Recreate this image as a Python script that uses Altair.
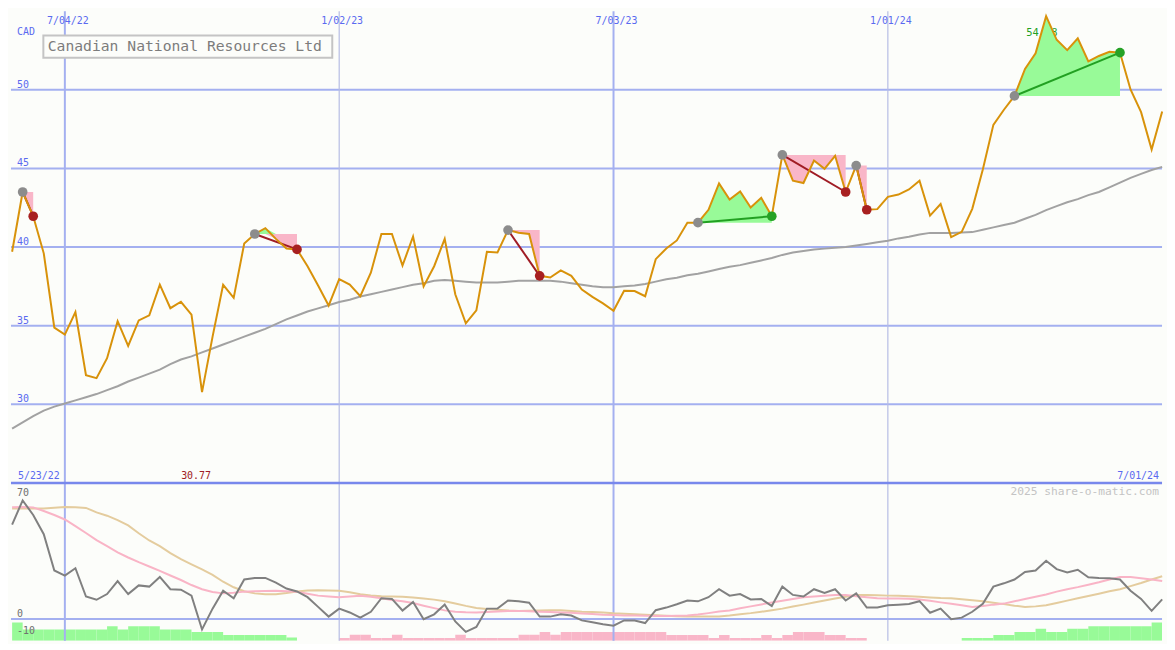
import altair as alt
import pandas as pd

# ---------------- data ----------------
start_date = "2022-05-30"          # first weekly bar (Monday)
title = "Canadian National Resources Ltd"
currency = "CAD"
first_label = "5/23/22"
last_label = "7/01/24"
credit = "2025 share-o-matic.com"

price = [39.7, 43.5, 41.96, 39.6, 34.88, 34.43, 35.87, 31.85, 31.66, 32.93,
         35.29, 33.71, 35.33, 35.66, 37.61, 36.11, 36.52, 35.70, 30.77, 34.3,
         37.6, 36.77, 40.22, 40.83, 41.2, 40.52, 39.91, 39.85, 38.78, 37.55,
         36.28, 37.96, 37.61, 36.87, 38.37, 40.83, 40.83, 38.82, 40.67, 37.5,
         38.78, 40.52, 37.0, 35.15, 35.97, 39.7, 39.66, 41.08, 40.91, 40.83,
         38.17, 38.06, 38.51, 38.17, 37.3, 36.83, 36.42, 35.95, 37.22, 37.2,
         36.87, 39.23, 39.91, 40.42, 41.55, 41.55, 42.37, 44.05, 43.02, 43.54,
         42.51, 43.13, 41.96, 45.86, 44.22, 44.07, 45.5, 44.97, 45.8, 43.5,
         45.18, 42.37, 42.41, 43.19, 43.34, 43.66, 44.22, 42.0, 42.74, 40.63,
         40.97, 42.43, 44.93, 47.77, 48.73, 49.61, 51.33, 52.32, 54.68, 53.18,
         52.52, 53.28, 51.8, 52.15, 52.42, 52.36, 50.02, 48.58, 46.2, 48.62]

ma40 = [28.45, 28.85, 29.25, 29.6, 29.85, 30.05, 30.25, 30.45, 30.65, 30.9,
        31.15, 31.45, 31.7, 31.95, 32.2, 32.55, 32.85, 33.05, 33.3, 33.55,
        33.8, 34.05, 34.3, 34.55, 34.8, 35.1, 35.4, 35.65, 35.9, 36.1,
        36.3, 36.5, 36.65, 36.85, 37.0, 37.15, 37.3, 37.45, 37.6, 37.7,
        37.85, 37.9, 37.85, 37.8, 37.75, 37.75, 37.75, 37.8, 37.85, 37.85,
        37.85, 37.85, 37.8, 37.7, 37.6, 37.5, 37.45, 37.45, 37.5, 37.55,
        37.65, 37.8, 37.95, 38.05, 38.2, 38.3, 38.45, 38.6, 38.75, 38.85,
        39.0, 39.15, 39.3, 39.5, 39.65, 39.75, 39.85, 39.9, 39.95, 40.0,
        40.1, 40.2, 40.3, 40.4, 40.55, 40.65, 40.8, 40.9, 40.9, 40.9,
        40.93, 40.95, 41.1, 41.25, 41.4, 41.55, 41.8, 42.05, 42.35, 42.6,
        42.85, 43.05, 43.3, 43.5, 43.8, 44.1, 44.4, 44.65, 44.9, 45.1]

osc = [54.5, 68.4, 60, 48.9, 28, 25, 29.3, 13, 11.1, 14.4,
       21.9, 14.4, 19.4, 18.7, 24.3, 17.2, 16.9, 13.5, -6, 6,
       16.3, 12, 22.8, 23.7, 23.7, 21, 17.6, 15.9, 12.6, 7,
       1.4, 6, 3.8, 0.8, 4.2, 12, 11.6, 4.9, 9.8, -0.1,
       2.7, 8.3, -1.4, -7.4, -4.6, 6, 6, 10.7, 10.2, 9.4,
       1.4, 1.4, 2.7, 2.0, -0.8, -1.9, -3.0, -3.8, -0.8, -0.8,
       -2.3, 5.1, 6.6, 8.5, 10.7, 10.2, 12.6, 17.2, 13.5, 14.4,
       11.3, 11.6, 7.5, 18.7, 13.9, 13, 17.2, 15, 17.2, 10.7,
       14.8, 6.6, 6.6, 7.9, 8.3, 8.7, 10.3, 3.6, 6.0, -0.1,
       0.8, 4.2, 8.8, 18.7, 20.6, 22.8, 27.1, 28, 33.6, 28.8,
       26.9, 28.4, 24.1, 23.7, 23.5, 22.8, 16.3, 11.6, 4.7, 11.3]

osc_fast = [64.4, 64.6, 64.4, 62.3, 60.0, 57.4, 53.6, 49.6, 45.5, 42.0,
            38.5, 35.5, 32.8, 30.3, 27.8, 25.1, 22.5, 19.6, 17.2, 15.6,
            14.8, 15.2, 15.8, 16.0, 16.2, 16.3, 16.0, 15.8, 14.6, 13.5,
            13.0, 12.6, 13.0, 13.4, 12.9, 12.0, 11.0, 10.2, 9.2, 7.7,
            6.3, 5.0, 4.2, 3.9, 3.8, 4.0, 4.3, 4.6, 4.7, 4.5,
            4.2, 4.0, 3.8, 3.6, 3.2, 2.9, 2.5, 2.3, 2.1, 2.0,
            1.9, 1.8, 1.8, 1.9, 2.0, 2.6, 3.4, 4.3, 4.9, 6.2,
            7.3, 8.4, 9.5, 10.5, 11.6, 12.6, 13.0, 13.4, 13.8, 13.8,
            13.2, 12.6, 12.0, 11.9, 11.8, 11.7, 11.3, 10.5, 9.6, 8.8,
            7.9, 7.0, 7.5, 8.3, 8.9, 10.2, 11.6, 12.9, 14.2, 15.8,
            17.2, 18.4, 19.8, 21.2, 22.8, 24.3, 24.2, 23.5, 22.8, 21.9]

osc_slow = [63.8, 63.8, 63.8, 63.8, 64.2, 64.6, 64.5, 64.1, 61.5, 59.6,
            57.0, 54.0, 49.5, 45.3, 42.0, 38.0, 34.5, 31.5, 28.6, 25.5,
            21.5, 18.3, 16.0, 14.8, 14.3, 14.3, 15.0, 15.9, 16.4, 16.6,
            16.5, 16.3, 15.5, 14.3, 13.6, 13.2, 13.0, 12.8, 12.4, 11.8,
            11.2, 10.2, 9.0, 7.6, 6.4, 5.8, 5.3, 4.9, 4.7, 4.8,
            4.9, 5.0, 5.0, 4.6, 4.2, 4.0, 3.8, 3.3, 3.0, 2.7,
            2.5, 2.2, 1.9, 1.6, 1.4, 1.4, 1.4, 1.4, 2.0, 2.8,
            3.4, 4.2, 5.1, 6.0, 7.2, 8.3, 9.5, 10.7, 11.8, 12.9,
            13.8, 13.9, 13.7, 13.5, 13.4, 13.1, 12.8, 12.4, 12.1, 12.0,
            11.4, 10.8, 10.2, 9.4, 8.6, 7.7, 7.0, 7.3, 7.9, 9.2,
            10.6, 12.0, 13.3, 14.6, 16.0, 17.2, 19.0, 20.8, 22.8, 24.7]

# histogram strength: + green (up), - pink (down), 0 none
hist = [10.6, 6.6, 6.6, 6.6, 6.6, 6.6, 6.6, 6.6, 6.6, 8.4,
        6.6, 8.4, 8.4, 8.4, 6.6, 6.6, 6.6, 5.1, 5.1, 5.1,
        3.4, 3.4, 3.4, 3.4, 3.4, 3.4, 1.9, 0, 0, 0,
        0, -1.7, -3.5, -3.5, -1.7, -1.7, -3.5, -1.7, -1.7, -1.7,
        -1.7, -1.7, -3.5, -1.7, -1.7, -1.7, -1.7, -1.7, -3.5, -3.5,
        -5.1, -3.5, -5.1, -5.1, -5.1, -5.1, -5.1, -5.1, -5.1, -5.1,
        -5.1, -5.1, -3.4, -3.4, -3.4, -3.4, -1.7, -3.4, -1.7, -1.7,
        -1.7, -3.4, -1.7, -3.4, -5.1, -5.1, -5.1, -3.4, -3.4, -1.7,
        -1.7, 0, 0, 0, 0, 0, 0, 0, 0, 0,
        1.7, 1.7, 1.7, 3.4, 3.4, 5.1, 5.1, 6.9, 5.1, 5.1,
        6.9, 6.9, 8.4, 8.4, 8.4, 8.4, 8.4, 8.4, 10.6, 10.6]

grid_dates = ["2022-07-04", "2023-01-02", "2023-07-03", "2024-01-01"]
grid_labels = ["7/04/22", "1/02/23", "7/03/23", "1/01/24"]
grid_major = [True, False, True, False]
price_levels = [30, 35, 40, 45, 50]
osc_levels = [70, 0, -10]
osc_level_labels = ["70", "0", "-10"]

pattern_start = [1, 23, 47, 65, 73, 80, 95]
pattern_end = [2, 27, 50, 72, 79, 81, 105]
pattern_kind = ["down", "down", "down", "up", "down", "down", "up"]

# ---------------- styling ----------------
W, H1, H2 = 1159, 475, 159
BG = "#fcfdfa"
GRID = "#a4b0f0"
GRID_MINOR = "#b6bce4"
BLUE_TXT = "#5a6af0"
FONT = "DejaVu Sans Mono"
PINK = "#f9b6c8"
LGREEN = "#98fa98"
X_DOM = [-0.75, 762.9]
P_DOM = [25, 55]
O_DOM = [-12.57, 78.5]

# ---------------- tables ----------------
t0 = pd.Timestamp(start_date)
n = len(price)
days = [7 * k for k in range(n)]
main = pd.DataFrame({"day": days, "price": price, "ma": ma40, "osc": osc,
                     "fast": osc_fast, "slow": osc_slow})

gdays = [(pd.Timestamp(d) - t0).days for d in grid_dates]
grid = pd.DataFrame({"day": gdays, "label": grid_labels, "major": grid_major})
grid_maj = grid[grid["major"]]
grid_min = grid[~grid["major"]]
levels = pd.DataFrame({"level": price_levels, "label": [str(v) for v in price_levels]})

area_rows, seg_rows, mark_rows = [], [], []
for pid, (s, e, kind) in enumerate(zip(pattern_start, pattern_end, pattern_kind)):
    lvl = price[s]
    for k in range(s, e + 1):
        area_rows.append({"pid": pid, "day": days[k], "lo": min(price[k], lvl),
                          "hi": max(price[k], lvl), "level": lvl})
    seg_rows.append({"pid": pid, "d1": days[s], "p1": price[s], "d2": days[e],
                     "p2": price[e], "kind": kind})
    mark_rows.append({"day": days[s], "price": price[s], "kind": "start"})
    mark_rows.append({"day": days[e], "price": price[e], "kind": kind})
areas = pd.DataFrame(area_rows)
segs = pd.DataFrame(seg_rows)
marks = pd.DataFrame(mark_rows)

imin = price.index(min(price))
imax = price.index(max(price))
extremes_min = pd.DataFrame({"day": [days[imin]], "label": [f"{price[imin]:.2f}"]})
extremes_max = pd.DataFrame({"day": [days[imax]], "label": [f"{price[imax]:.2f}"]})

hrows = []
for k, h in enumerate(hist):
    if h != 0:
        hrows.append({"d1": days[k], "d2": days[k] + 7, "bot": O_DOM[0],
                      "top": O_DOM[0] + abs(h), "kind": "up" if h > 0 else "down"})
hdf = pd.DataFrame(hrows)
olev = pd.DataFrame({"level": osc_levels, "label": osc_level_labels})


def xs(field="day"):
    return alt.X(f"{field}:Q", scale=alt.Scale(domain=X_DOM, nice=False, zero=False), axis=None)


def yp(field):
    return alt.Y(f"{field}:Q", scale=alt.Scale(domain=P_DOM, nice=False, zero=False), axis=None)


def yo(field):
    return alt.Y(f"{field}:Q", scale=alt.Scale(domain=O_DOM, nice=False, zero=False), axis=None)


def vgrid_layers():
    return [
        alt.Chart(grid_maj).mark_rule(color=GRID, strokeWidth=2).encode(x=xs()),
        alt.Chart(grid_min).mark_rule(color=GRID_MINOR, strokeWidth=1.2).encode(x=xs()),
    ]


# ---------------- upper panel ----------------
hgrid = alt.Chart(levels).mark_rule(color=GRID, strokeWidth=2).encode(y=yp("level"))
lvl_txt = alt.Chart(levels).mark_text(align="left", baseline="alphabetic", dy=-2, font=FONT,
                                      fontSize=10, color=BLUE_TXT).encode(
    x=alt.value(6), y=yp("level"), text="label:N")
date_txt = alt.Chart(grid).mark_text(align="center", baseline="alphabetic", dx=3, font=FONT,
                                     fontSize=10, color=BLUE_TXT).encode(
    x=xs(), y=alt.value(12.5), text="label:N")
cad_txt = alt.Chart(pd.DataFrame({"t": [currency]})).mark_text(
    align="left", baseline="alphabetic", font=FONT, fontSize=10, color=BLUE_TXT).encode(
    x=alt.value(6), y=alt.value(23.5), text="t:N")
max_txt = alt.Chart(extremes_max).mark_text(align="left", baseline="alphabetic", dx=-20, font=FONT,
                                            fontSize=10.5, color="#22a022").encode(
    x=xs(), y=alt.value(24.5), text="label:N")
area_dn = alt.Chart(areas).mark_area(color=PINK, opacity=1).encode(
    x=xs(), y=yp("lo"), y2=alt.Y2("level:Q"), detail="pid:N")
area_up = alt.Chart(areas).mark_area(color=LGREEN, opacity=1).encode(
    x=xs(), y=yp("hi"), y2=alt.Y2("level:Q"), detail="pid:N")
ma_line = alt.Chart(main).mark_line(color="#a2a2a2", strokeWidth=2).encode(x=xs(), y=yp("ma"))
seg_up = alt.Chart(segs[segs["kind"] == "up"]).mark_rule(strokeWidth=2, color="#22a022").encode(
    x=xs("d1"), y=yp("p1"), x2=alt.X2("d2:Q"), y2=alt.Y2("p2:Q"))
seg_dn = alt.Chart(segs[segs["kind"] == "down"]).mark_rule(strokeWidth=2, color="#a01c24").encode(
    x=xs("d1"), y=yp("p1"), x2=alt.X2("d2:Q"), y2=alt.Y2("p2:Q"))
price_line = alt.Chart(main).mark_line(color="#d8920a", strokeWidth=2).encode(x=xs(), y=yp("price"))
mk_start = alt.Chart(marks[marks["kind"] == "start"]).mark_circle(size=95, opacity=1, color="#8c8c8c").encode(
    x=xs(), y=yp("price"))
mk_up = alt.Chart(marks[marks["kind"] == "up"]).mark_circle(size=95, opacity=1, color="#26a226").encode(
    x=xs(), y=yp("price"))
mk_dn = alt.Chart(marks[marks["kind"] == "down"]).mark_circle(size=95, opacity=1, color="#a82020").encode(
    x=xs(), y=yp("price"))
box = alt.Chart(pd.DataFrame({"t": [title]})).mark_rect(
    fill=BG, stroke="#c4c4c4", strokeWidth=2).encode(
    x=alt.value(32.6), x2=alt.value(323.5), y=alt.value(24.4), y2=alt.value(46.8))
box_txt = alt.Chart(pd.DataFrame({"t": [title]})).mark_text(
    align="left", baseline="middle", font=FONT, fontSize=14.8, color="#7c7c7c").encode(
    x=alt.value(37), y=alt.value(36), text="t:N")
first_txt = alt.Chart(pd.DataFrame({"t": [first_label]})).mark_text(
    align="left", baseline="alphabetic", font=FONT, fontSize=10, color=BLUE_TXT).encode(
    x=alt.value(7), y=alt.value(470.8), text="t:N")
last_txt = alt.Chart(pd.DataFrame({"t": [last_label]})).mark_text(
    align="right", baseline="alphabetic", font=FONT, fontSize=10, color=BLUE_TXT).encode(
    x=alt.value(1156), y=alt.value(470.8), text="t:N")
min_txt = alt.Chart(extremes_min).mark_text(align="center", baseline="alphabetic", dx=-6, font=FONT,
                                            fontSize=10, color="#a01c24").encode(
    x=xs(), y=alt.value(470.8), text="label:N")

upper = alt.layer(hgrid, *vgrid_layers(), lvl_txt, date_txt, cad_txt, max_txt, area_dn, area_up,
                  ma_line, seg_up, seg_dn, price_line, mk_start, mk_up, mk_dn, box, box_txt,
                  first_txt, last_txt, min_txt).properties(width=W, height=H1)

# ---------------- lower panel ----------------
bars_up = alt.Chart(hdf[hdf["kind"] == "up"]).mark_rect(clip=True, color=LGREEN).encode(
    x=xs("d1"), x2=alt.X2("d2:Q"), y=yo("bot"), y2=alt.Y2("top:Q"))
bars_dn = alt.Chart(hdf[hdf["kind"] == "down"]).mark_rect(clip=True, color=PINK).encode(
    x=xs("d1"), x2=alt.X2("d2:Q"), y=yo("bot"), y2=alt.Y2("top:Q"))
zero = alt.Chart(pd.DataFrame({"v": [0]})).mark_rule(color=GRID, strokeWidth=2).encode(y=yo("v"))
sep = alt.Chart(pd.DataFrame({"v": [O_DOM[1]]})).mark_rule(color="#7888ec", strokeWidth=2.5).encode(y=yo("v"))
fast_line = alt.Chart(main).mark_line(color="#f9b4c6", strokeWidth=2).encode(x=xs(), y=yo("fast"))
slow_line = alt.Chart(main).mark_line(color="#e4cc9e", strokeWidth=2).encode(x=xs(), y=yo("slow"))
osc_line = alt.Chart(main).mark_line(color="#808080", strokeWidth=2).encode(x=xs(), y=yo("osc"))
olev_txt = alt.Chart(olev).mark_text(align="left", baseline="alphabetic", dy=-2, font=FONT,
                                     fontSize=10, color="#707070").encode(
    x=alt.value(6), y=yo("level"), text="label:N")
credit_txt = alt.Chart(pd.DataFrame({"t": [credit]})).mark_text(
    align="right", baseline="alphabetic", font=FONT, fontSize=11.3, color="#c4c4c4").encode(
    x=alt.value(1156), y=alt.value(11.7), text="t:N")

lower = alt.layer(bars_up, bars_dn, *vgrid_layers(), zero, slow_line, fast_line, osc_line,
                  olev_txt, credit_txt, sep).properties(width=W, height=H2)

chart = alt.vconcat(upper, lower, spacing=0, bounds="flush").properties(
    padding=0).configure(background=BG).configure_view(strokeWidth=0, fill=BG)

chart.save("out.html", embed_options={"renderer": "svg", "actions": False})
